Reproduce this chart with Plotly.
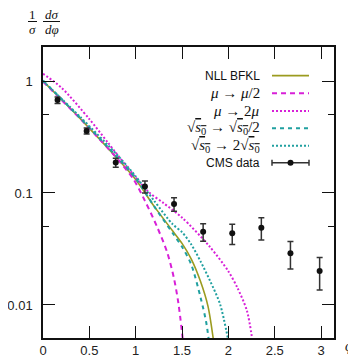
import plotly.graph_objects as go

# ---------------- data ----------------
phi_nll = [0, 0.2, 0.4, 0.6, 0.8, 1.0, 1.2, 1.4, 1.5, 1.6, 1.7, 1.78, 1.84]
val_nll = [1.0, 0.684, 0.462, 0.309, 0.204, 0.132, 0.0759, 0.0457, 0.0355, 0.0257, 0.0162, 0.00977, 0.0048]

phi_mu_half = [0, 0.2, 0.44, 0.61, 0.76, 0.97, 1.10, 1.23, 1.34, 1.41, 1.46, 1.51]
val_mu_half = [0.989, 0.676, 0.427, 0.302, 0.221, 0.135, 0.0851, 0.0501, 0.0295, 0.0178, 0.0105, 0.0048]

phi_mu_two = [0, 0.2, 0.5, 0.7, 0.9, 1.14, 1.3, 1.5, 1.8, 2.0, 2.1, 2.2, 2.26]
val_mu_two = [1.161, 0.871, 0.457, 0.282, 0.174, 0.102, 0.0813, 0.0603, 0.0331, 0.0200, 0.0141, 0.00891, 0.0048]

phi_s0_half = [0, 0.4, 0.8, 1.0, 1.2, 1.4, 1.5, 1.6, 1.7, 1.76, 1.79]
val_s0_half = [1.012, 0.468, 0.209, 0.135, 0.0759, 0.0437, 0.0331, 0.0229, 0.0117, 0.00708, 0.0048]

phi_s0_two = [0, 0.4, 0.8, 1.0, 1.2, 1.4, 1.5, 1.6, 1.7, 1.8, 1.91, 2.0]
val_s0_two = [1.0, 0.479, 0.219, 0.141, 0.0851, 0.0525, 0.0447, 0.0347, 0.0245, 0.0166, 0.0102, 0.0048]

phi_cms = [0.157, 0.471, 0.785, 1.100, 1.414, 1.728, 2.042, 2.356, 2.670, 2.985]
val_cms = [0.676, 0.358, 0.187, 0.114, 0.0798, 0.0451, 0.0437, 0.049, 0.0289, 0.0201]
err_cms = [0.045, 0.022, 0.017, 0.014, 0.011, 0.008, 0.009, 0.011, 0.008, 0.0065]

x_ticks = [0, 0.5, 1, 1.5, 2, 2.5, 3]
x_tick_labels = ["0", "0.5", "1", "1.5", "2", "2.5", "3"]
y_ticks = [1, 0.1, 0.01]
y_tick_labels = ["1", "0.1", "0.01"]
y_minor_ticks = [0.5, 0.05]

legend_labels = [
    "NLL BFKL",
    "<i>μ</i> → <i>μ</i>/2",
    "<i>μ</i> → 2<i>μ</i>",
    "√<span style='text-decoration:overline'><i>s</i><sub>0</sub></span> → √<span style='text-decoration:overline'><i>s</i><sub>0</sub></span>/2",
    "√<span style='text-decoration:overline'><i>s</i><sub>0</sub></span> → 2√<span style='text-decoration:overline'><i>s</i><sub>0</sub></span>",
    "CMS data",
]

# ---------------- styles ----------------
OLIVE = "#9b9b1f"
MAGENTA = "#d820d8"
TEAL = "#20a0a0"
BLACK = "#111111"

# page body has an 8px margin: the figure is drawn 8px smaller and all
# reference pixel positions are shifted by that offset
OFF = 8
W, H = 356 - OFF, 357 - OFF
L, R, T, B = 43, 334, 47, 338          # plot frame in reference pixels
PW, PH = R - L, B - T


def px(x):
    return (x - L) / PW


def py(y):
    return (B - y) / PH


fig = go.Figure()
curves = [
    (phi_nll, val_nll, OLIVE, "solid", 1.6),
    (phi_mu_half, val_mu_half, MAGENTA, "5px,4px", 2),
    (phi_mu_two, val_mu_two, MAGENTA, "2px,2px", 2),
    (phi_s0_half, val_s0_half, TEAL, "4px,4px", 2),
    (phi_s0_two, val_s0_two, TEAL, "2px,2px", 2),
]
for xs, ys, c, d, w in curves:
    fig.add_trace(go.Scatter(x=xs, y=ys, mode="lines",
                             line=dict(color=c, dash=d, width=w, shape="spline", smoothing=0.8),
                             showlegend=False, hoverinfo="skip"))

fig.add_trace(go.Scatter(
    x=phi_cms, y=val_cms, mode="markers",
    marker=dict(color=BLACK, size=6),
    error_y=dict(type="data", array=err_cms, visible=True, color="#333333", thickness=1.5, width=3),
    showlegend=False, hoverinfo="skip"))

# ---------------- custom legend ----------------
rows = [75.7, 93.3, 111, 128.3, 145.7, 162.7]
text_right = 262
s0, s1 = 272, 309
shapes = []
annotations = []
styles = [(OLIVE, "solid", 1.8), (MAGENTA, "5px,4px", 2), (MAGENTA, "2px,2px", 2),
          (TEAL, "4px,4px", 2), (TEAL, "2px,2px", 2)]
for i, lab in enumerate(legend_labels):
    sans = i in (0, 5)
    annotations.append(dict(
        x=px(text_right), y=py(rows[i]), xref="paper", yref="paper",
        xanchor="right", yanchor="middle", showarrow=False, text=lab,
        font=dict(family="Liberation Sans" if sans else "Liberation Serif",
                  size=12 if sans else 15, color=BLACK)))
    if i < 5:
        c, d, w = styles[i]
        shapes.append(dict(type="line", xref="paper", yref="paper",
                           x0=px(s0), x1=px(s1), y0=py(rows[i]), y1=py(rows[i]),
                           line=dict(color=c, dash=d, width=w)))
    else:
        yy = rows[i]
        shapes.append(dict(type="line", xref="paper", yref="paper",
                           x0=px(s0), x1=px(s1), y0=py(yy), y1=py(yy),
                           line=dict(color="#333333", width=1.5)))
        for xx in (s0, s1):
            shapes.append(dict(type="line", xref="paper", yref="paper",
                               x0=px(xx), x1=px(xx), y0=py(yy - 3), y1=py(yy + 3),
                               line=dict(color="#333333", width=1.5)))
        shapes.append(dict(type="circle", xref="paper", yref="paper",
                           x0=px((s0 + s1) / 2 - 3), x1=px((s0 + s1) / 2 + 3),
                           y0=py(yy - 3), y1=py(yy + 3),
                           fillcolor=BLACK, line=dict(color=BLACK, width=0)))

# ---------------- axis titles ----------------
math_font = dict(family="Liberation Serif", size=13, color=BLACK)
annotations += [
    dict(x=px(32.5), y=py(14.5), text="1", xref="paper", yref="paper", showarrow=False,
         xanchor="center", yanchor="middle", font=math_font),
    dict(x=px(32.5), y=py(29), text="<i>σ</i>", xref="paper", yref="paper", showarrow=False,
         xanchor="center", yanchor="middle", font=math_font),
    dict(x=px(51.5), y=py(14.5), text="<i>dσ</i>", xref="paper", yref="paper", showarrow=False,
         xanchor="center", yanchor="middle", font=math_font),
    dict(x=px(51.5), y=py(29), text="<i>dφ</i>", xref="paper", yref="paper", showarrow=False,
         xanchor="center", yanchor="middle", font=math_font),
    dict(x=px(349), y=py(347), text="<i>φ</i>", xref="paper", yref="paper", showarrow=False,
         xanchor="center", yanchor="middle", font=dict(family="Liberation Serif", size=14, color=BLACK)),
]
for a, b in ((28, 37), (43, 60)):
    shapes.append(dict(type="line", xref="paper", yref="paper",
                       x0=px(a), x1=px(b), y0=py(21.5), y1=py(21.5),
                       line=dict(color=BLACK, width=1)))

axis_common = dict(showline=True, linecolor=BLACK, linewidth=1.5, mirror="ticks",
                   ticks="inside", ticklen=12, tickwidth=1.2, tickcolor=BLACK,
                   showgrid=False, zeroline=False, automargin=False,
                   tickfont=dict(family="Liberation Sans", size=13, color="#222222"))

fig.update_layout(
    width=W, height=H,
    margin=dict(l=L - OFF, r=356 - R, t=T - OFF, b=357 - B, autoexpand=False),
    paper_bgcolor="white", plot_bgcolor="white", showlegend=False,
    xaxis=dict(range=[0, 3.14], tickmode="array", tickvals=x_ticks, ticktext=x_tick_labels,
               ticklabelstandoff=0, **axis_common),
    yaxis=dict(type="log", range=[-2.295, 0.3036], tickmode="array", tickvals=y_ticks,
               ticktext=y_tick_labels, ticklabelstandoff=6,
               minor=dict(tickmode="array", tickvals=y_minor_ticks, ticks="inside",
                          ticklen=6, tickwidth=1.2, tickcolor=BLACK, showgrid=False),
               **axis_common),
    shapes=shapes, annotations=annotations,
)

fig.write_html("out.html")
